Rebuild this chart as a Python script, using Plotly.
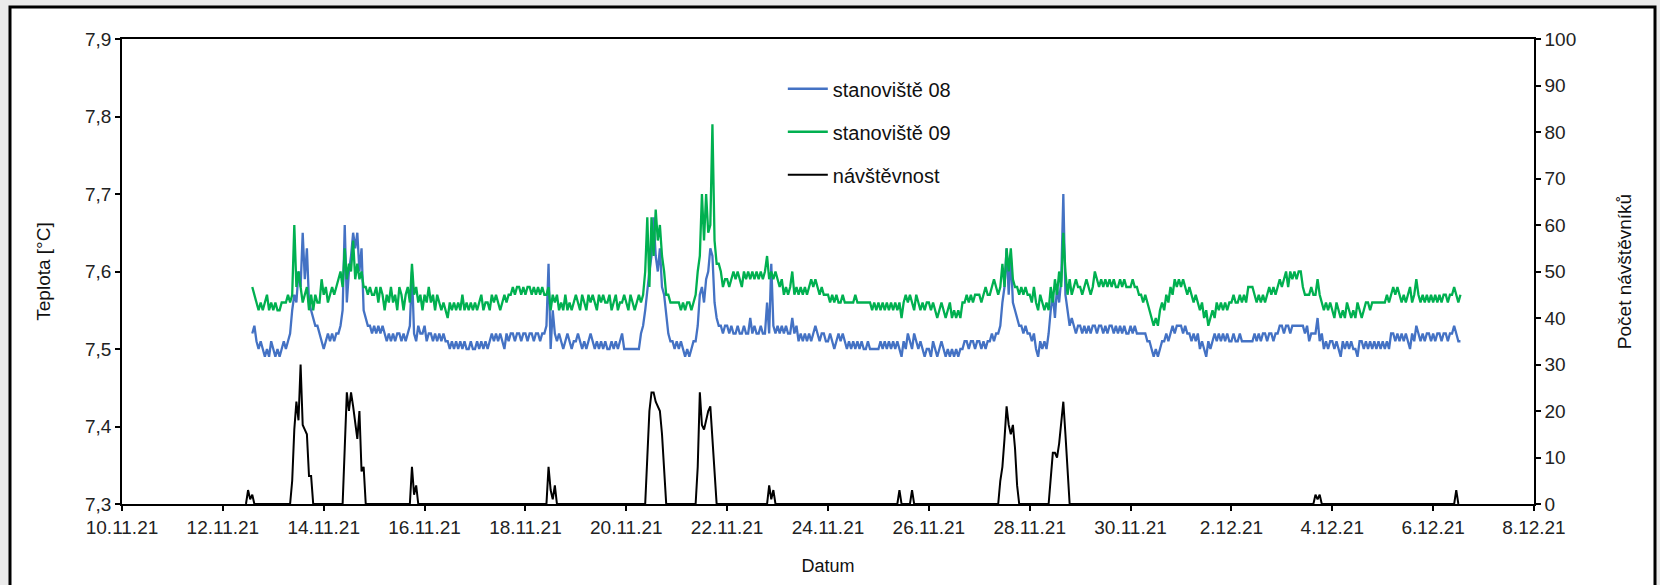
import pandas as pd
import plotly.graph_objects as go

# ---- stanoviště 08 (hourly, from 12.11.2021 14:00) ----
st08 = [
    7.52, 7.53, 7.51, 7.50, 7.51, 7.50, 7.49, 7.50, 7.49, 7.51,  # 12.11 (14-23 h)
    7.50, 7.49, 7.50, 7.49, 7.50, 7.51, 7.50, 7.51, 7.52, 7.55, 7.57, 7.56, 7.60, 7.58, 7.65, 7.59, 7.63, 7.56, 7.55, 7.54, 7.53, 7.53, 7.52, 7.51,  # 13.11
    7.50, 7.51, 7.52, 7.51, 7.52, 7.51, 7.52, 7.52, 7.53, 7.55, 7.66, 7.56, 7.60, 7.62, 7.65, 7.63, 7.65, 7.60, 7.63, 7.55, 7.54, 7.53, 7.53, 7.52,  # 14.11
    7.53, 7.52, 7.53, 7.52, 7.53, 7.52, 7.51, 7.52, 7.51, 7.52, 7.51, 7.52, 7.52, 7.51, 7.52, 7.51, 7.52, 7.53, 7.60, 7.52, 7.51, 7.53, 7.52, 7.52,  # 15.11
    7.53, 7.51, 7.52, 7.52, 7.51, 7.52, 7.51, 7.52, 7.51, 7.52, 7.51, 7.51, 7.50, 7.51, 7.50, 7.51, 7.50, 7.51, 7.50, 7.51, 7.50, 7.50, 7.51, 7.50,  # 16.11
    7.50, 7.51, 7.50, 7.51, 7.50, 7.51, 7.50, 7.51, 7.52, 7.51, 7.52, 7.51, 7.52, 7.51, 7.50, 7.52, 7.51, 7.52, 7.52, 7.51, 7.52, 7.52, 7.51, 7.52,  # 17.11
    7.52, 7.51, 7.52, 7.52, 7.51, 7.52, 7.52, 7.51, 7.52, 7.52, 7.53, 7.61, 7.50, 7.55, 7.52, 7.51, 7.52, 7.51, 7.50, 7.51, 7.52, 7.51, 7.50, 7.51,  # 18.11
    7.51, 7.52, 7.51, 7.50, 7.51, 7.50, 7.51, 7.52, 7.51, 7.50, 7.51, 7.50, 7.51, 7.50, 7.51, 7.50, 7.50, 7.51, 7.50, 7.51, 7.50, 7.51, 7.52, 7.50,  # 19.11
    7.50, 7.50, 7.50, 7.50, 7.50, 7.50, 7.50, 7.52, 7.53, 7.55, 7.58, 7.60, 7.62, 7.67, 7.62, 7.60, 7.63, 7.58, 7.57, 7.54, 7.52, 7.51, 7.51, 7.50,  # 20.11
    7.51, 7.50, 7.51, 7.50, 7.49, 7.50, 7.49, 7.50, 7.51, 7.51, 7.53, 7.57, 7.58, 7.56, 7.59, 7.60, 7.63, 7.62, 7.56, 7.54, 7.53, 7.53, 7.52, 7.53,  # 21.11
    7.53, 7.52, 7.53, 7.52, 7.52, 7.53, 7.52, 7.52, 7.53, 7.52, 7.52, 7.54, 7.52, 7.53, 7.52, 7.52, 7.53, 7.52, 7.52, 7.56, 7.52, 7.61, 7.53, 7.52,  # 22.11
    7.53, 7.52, 7.53, 7.52, 7.53, 7.52, 7.52, 7.54, 7.52, 7.53, 7.51, 7.52, 7.51, 7.52, 7.51, 7.52, 7.51, 7.52, 7.53, 7.52, 7.51, 7.52, 7.52, 7.51,  # 23.11
    7.51, 7.52, 7.51, 7.50, 7.51, 7.52, 7.51, 7.52, 7.51, 7.50, 7.51, 7.50, 7.51, 7.50, 7.51, 7.50, 7.51, 7.50, 7.50, 7.51, 7.50, 7.50, 7.50, 7.50,  # 24.11
    7.50, 7.51, 7.50, 7.51, 7.50, 7.51, 7.50, 7.51, 7.50, 7.51, 7.50, 7.49, 7.51, 7.50, 7.52, 7.51, 7.50, 7.52, 7.51, 7.50, 7.51, 7.50, 7.49, 7.50,  # 25.11
    7.50, 7.49, 7.51, 7.50, 7.49, 7.50, 7.51, 7.50, 7.49, 7.50, 7.49, 7.50, 7.49, 7.50, 7.49, 7.50, 7.50, 7.51, 7.51, 7.50, 7.51, 7.51, 7.50, 7.51,  # 26.11
    7.51, 7.50, 7.51, 7.50, 7.51, 7.51, 7.52, 7.51, 7.52, 7.52, 7.53, 7.56, 7.58, 7.63, 7.57, 7.62, 7.56, 7.55, 7.54, 7.53, 7.53, 7.52, 7.53, 7.52,  # 27.11
    7.52, 7.51, 7.52, 7.50, 7.49, 7.51, 7.50, 7.51, 7.50, 7.52, 7.55, 7.57, 7.54, 7.58, 7.56, 7.59, 7.70, 7.57, 7.55, 7.53, 7.54, 7.53, 7.52, 7.53,  # 28.11
    7.53, 7.52, 7.53, 7.52, 7.53, 7.52, 7.53, 7.53, 7.52, 7.53, 7.53, 7.52, 7.53, 7.52, 7.53, 7.53, 7.52, 7.53, 7.52, 7.53, 7.52, 7.53, 7.52, 7.52,  # 29.11
    7.53, 7.52, 7.53, 7.52, 7.52, 7.52, 7.52, 7.52, 7.51, 7.51, 7.50, 7.49, 7.50, 7.49, 7.50, 7.51, 7.51, 7.52, 7.51, 7.52, 7.53, 7.52, 7.53, 7.53,  # 30.11
    7.53, 7.52, 7.53, 7.52, 7.52, 7.51, 7.52, 7.51, 7.52, 7.50, 7.51, 7.50, 7.49, 7.51, 7.50, 7.51, 7.52, 7.51, 7.52, 7.51, 7.52, 7.51, 7.52, 7.51,  # 1.12
    7.51, 7.52, 7.51, 7.51, 7.52, 7.51, 7.51, 7.51, 7.51, 7.51, 7.51, 7.52, 7.51, 7.52, 7.51, 7.52, 7.52, 7.51, 7.52, 7.52, 7.51, 7.52, 7.52, 7.53,  # 2.12
    7.53, 7.52, 7.53, 7.53, 7.52, 7.53, 7.53, 7.53, 7.53, 7.53, 7.53, 7.52, 7.53, 7.51, 7.52, 7.52, 7.52, 7.54, 7.51, 7.52, 7.50, 7.51, 7.50, 7.51,  # 3.12
    7.51, 7.50, 7.51, 7.50, 7.49, 7.51, 7.50, 7.51, 7.50, 7.51, 7.50, 7.50, 7.49, 7.51, 7.51, 7.50, 7.51, 7.50, 7.51, 7.50, 7.51, 7.50, 7.51, 7.50,  # 4.12
    7.51, 7.50, 7.51, 7.50, 7.52, 7.52, 7.51, 7.52, 7.51, 7.52, 7.51, 7.52, 7.51, 7.50, 7.52, 7.51, 7.53, 7.52, 7.51, 7.52, 7.51, 7.52, 7.52, 7.51,  # 5.12
    7.52, 7.51, 7.52, 7.52, 7.51, 7.52, 7.52, 7.51, 7.52, 7.52, 7.53, 7.52, 7.51, 7.51,  # 6.12 (0-13 h)
]

# ---- stanoviště 09 (hourly, from 12.11.2021 14:00) ----
st09 = [
    7.58, 7.57, 7.56, 7.55, 7.56, 7.55, 7.56, 7.57, 7.55, 7.56,  # 12.11
    7.55, 7.56, 7.55, 7.55, 7.56, 7.56, 7.56, 7.57, 7.56, 7.57, 7.66, 7.58, 7.60, 7.58, 7.56, 7.57, 7.58, 7.55, 7.57, 7.55, 7.57, 7.56, 7.56, 7.59,  # 13.11
    7.57, 7.58, 7.56, 7.57, 7.58, 7.57, 7.58, 7.59, 7.60, 7.58, 7.63, 7.59, 7.61, 7.60, 7.64, 7.59, 7.61, 7.59, 7.60, 7.58, 7.58, 7.57, 7.58, 7.57,  # 14.11
    7.57, 7.58, 7.56, 7.58, 7.57, 7.55, 7.57, 7.56, 7.58, 7.56, 7.57, 7.55, 7.58, 7.57, 7.55, 7.57, 7.58, 7.56, 7.61, 7.57, 7.58, 7.56, 7.57, 7.55,  # 15.11
    7.57, 7.56, 7.58, 7.56, 7.57, 7.55, 7.57, 7.56, 7.55, 7.56, 7.55, 7.54, 7.56, 7.55, 7.56, 7.55, 7.56, 7.55, 7.57, 7.55, 7.56, 7.55, 7.56, 7.55,  # 16.11
    7.56, 7.55, 7.56, 7.57, 7.55, 7.56, 7.56, 7.55, 7.57, 7.56, 7.57, 7.56, 7.55, 7.56, 7.57, 7.56, 7.57, 7.57, 7.58, 7.57, 7.58, 7.58, 7.57, 7.58,  # 17.11
    7.57, 7.58, 7.58, 7.57, 7.58, 7.57, 7.58, 7.57, 7.58, 7.57, 7.57, 7.58, 7.55, 7.57, 7.56, 7.57, 7.55, 7.56, 7.55, 7.57, 7.55, 7.56, 7.55, 7.56,  # 18.11
    7.57, 7.56, 7.55, 7.57, 7.56, 7.55, 7.57, 7.56, 7.57, 7.56, 7.55, 7.57, 7.56, 7.57, 7.56, 7.56, 7.57, 7.55, 7.56, 7.57, 7.55, 7.56, 7.56, 7.57,  # 19.11
    7.56, 7.55, 7.57, 7.56, 7.55, 7.56, 7.57, 7.56, 7.57, 7.60, 7.67, 7.58, 7.67, 7.62, 7.68, 7.64, 7.66, 7.62, 7.60, 7.57, 7.57, 7.56, 7.56, 7.56,  # 20.11
    7.56, 7.56, 7.55, 7.56, 7.55, 7.56, 7.56, 7.55, 7.56, 7.57, 7.60, 7.62, 7.70, 7.64, 7.70, 7.65, 7.66, 7.79, 7.64, 7.61, 7.61, 7.60, 7.58, 7.59,  # 21.11
    7.59, 7.58, 7.59, 7.60, 7.59, 7.60, 7.59, 7.58, 7.60, 7.59, 7.60, 7.59, 7.60, 7.59, 7.60, 7.59, 7.60, 7.59, 7.60, 7.62, 7.59, 7.60, 7.59, 7.60,  # 22.11
    7.59, 7.58, 7.59, 7.57, 7.58, 7.57, 7.58, 7.60, 7.57, 7.58, 7.57, 7.58, 7.57, 7.58, 7.57, 7.58, 7.59, 7.58, 7.59, 7.58, 7.57, 7.58, 7.57, 7.57,  # 23.11
    7.57, 7.56, 7.57, 7.56, 7.57, 7.56, 7.56, 7.57, 7.56, 7.56, 7.56, 7.56, 7.56, 7.57, 7.56, 7.56, 7.56, 7.56, 7.56, 7.56, 7.56, 7.55, 7.56, 7.55,  # 24.11
    7.56, 7.55, 7.56, 7.55, 7.56, 7.55, 7.56, 7.55, 7.56, 7.55, 7.56, 7.54, 7.56, 7.57, 7.56, 7.57, 7.56, 7.55, 7.57, 7.56, 7.55, 7.56, 7.55, 7.56,  # 25.11
    7.56, 7.55, 7.56, 7.55, 7.54, 7.55, 7.56, 7.55, 7.54, 7.55, 7.56, 7.54, 7.55, 7.54, 7.55, 7.54, 7.56, 7.56, 7.57, 7.56, 7.57, 7.56, 7.57, 7.57,  # 26.11
    7.57, 7.56, 7.57, 7.58, 7.57, 7.57, 7.58, 7.59, 7.58, 7.57, 7.58, 7.61, 7.58, 7.63, 7.60, 7.63, 7.59, 7.58, 7.58, 7.57, 7.58, 7.57, 7.58, 7.57,  # 27.11
    7.57, 7.56, 7.58, 7.56, 7.55, 7.57, 7.56, 7.55, 7.56, 7.55, 7.58, 7.56, 7.59, 7.57, 7.60, 7.58, 7.65, 7.60, 7.57, 7.59, 7.57, 7.58, 7.59, 7.58,  # 28.11
    7.58, 7.57, 7.58, 7.59, 7.58, 7.57, 7.58, 7.60, 7.59, 7.58, 7.59, 7.58, 7.59, 7.58, 7.59, 7.58, 7.59, 7.58, 7.58, 7.59, 7.58, 7.59, 7.58, 7.58,  # 29.11
    7.58, 7.59, 7.58, 7.58, 7.57, 7.57, 7.56, 7.57, 7.56, 7.55, 7.54, 7.53, 7.54, 7.53, 7.55, 7.56, 7.55, 7.57, 7.56, 7.58, 7.57, 7.59, 7.58, 7.59,  # 30.11
    7.58, 7.59, 7.58, 7.57, 7.58, 7.57, 7.56, 7.57, 7.56, 7.55, 7.56, 7.54, 7.55, 7.53, 7.54, 7.55, 7.54, 7.56, 7.55, 7.56, 7.55, 7.56, 7.55, 7.56,  # 1.12
    7.56, 7.57, 7.56, 7.56, 7.57, 7.56, 7.57, 7.56, 7.58, 7.58, 7.58, 7.57, 7.56, 7.57, 7.56, 7.57, 7.56, 7.57, 7.58, 7.57, 7.58, 7.57, 7.58, 7.59,  # 2.12
    7.58, 7.59, 7.60, 7.58, 7.60, 7.59, 7.60, 7.59, 7.60, 7.60, 7.58, 7.57, 7.57, 7.57, 7.58, 7.57, 7.57, 7.59, 7.57, 7.56, 7.55, 7.56, 7.55, 7.56,  # 3.12
    7.55, 7.54, 7.56, 7.55, 7.54, 7.55, 7.54, 7.56, 7.55, 7.54, 7.55, 7.54, 7.56, 7.55, 7.54, 7.55, 7.56, 7.56, 7.55, 7.56, 7.56, 7.56, 7.56, 7.56,  # 4.12
    7.56, 7.56, 7.57, 7.56, 7.57, 7.58, 7.57, 7.58, 7.57, 7.56, 7.57, 7.56, 7.57, 7.58, 7.56, 7.57, 7.59, 7.57, 7.56, 7.57, 7.56, 7.57, 7.56, 7.57,  # 5.12
    7.56, 7.57, 7.56, 7.57, 7.56, 7.57, 7.57, 7.56, 7.57, 7.57, 7.58, 7.57, 7.56, 7.57,  # 6.12
]

# ---- návštěvnost (visitor counts, hourly, zero between the listed hours) ----
visit_time = [
    "2021-11-12 11:00", "2021-11-12 12:00", "2021-11-12 13:00", "2021-11-12 14:00", "2021-11-12 15:00",
    "2021-11-13 08:00", "2021-11-13 09:00", "2021-11-13 10:00", "2021-11-13 11:00", "2021-11-13 12:00",
    "2021-11-13 13:00", "2021-11-13 14:00", "2021-11-13 15:00", "2021-11-13 16:00", "2021-11-13 17:00",
    "2021-11-13 18:00", "2021-11-13 19:00",
    "2021-11-14 09:00", "2021-11-14 10:00", "2021-11-14 11:00", "2021-11-14 12:00", "2021-11-14 13:00",
    "2021-11-14 14:00", "2021-11-14 15:00", "2021-11-14 16:00", "2021-11-14 17:00", "2021-11-14 18:00",
    "2021-11-14 19:00", "2021-11-14 20:00",
    "2021-11-15 17:00", "2021-11-15 18:00", "2021-11-15 19:00", "2021-11-15 20:00", "2021-11-15 21:00",
    "2021-11-18 10:00", "2021-11-18 11:00", "2021-11-18 12:00", "2021-11-18 13:00", "2021-11-18 14:00",
    "2021-11-18 15:00",
    "2021-11-20 09:00", "2021-11-20 10:00", "2021-11-20 11:00", "2021-11-20 12:00", "2021-11-20 13:00",
    "2021-11-20 14:00", "2021-11-20 15:00", "2021-11-20 16:00", "2021-11-20 17:00", "2021-11-20 18:00",
    "2021-11-20 19:00",
    "2021-11-21 09:00", "2021-11-21 10:00", "2021-11-21 11:00", "2021-11-21 12:00", "2021-11-21 13:00",
    "2021-11-21 14:00", "2021-11-21 15:00", "2021-11-21 16:00", "2021-11-21 17:00", "2021-11-21 18:00",
    "2021-11-21 19:00",
    "2021-11-22 19:00", "2021-11-22 20:00", "2021-11-22 21:00", "2021-11-22 22:00", "2021-11-22 23:00",
    "2021-11-25 09:00", "2021-11-25 10:00", "2021-11-25 11:00",
    "2021-11-25 15:00", "2021-11-25 16:00", "2021-11-25 17:00",
    "2021-11-27 09:00", "2021-11-27 10:00", "2021-11-27 11:00", "2021-11-27 12:00", "2021-11-27 13:00",
    "2021-11-27 14:00", "2021-11-27 15:00", "2021-11-27 16:00", "2021-11-27 17:00", "2021-11-27 18:00",
    "2021-11-27 19:00",
    "2021-11-28 09:00", "2021-11-28 10:00", "2021-11-28 11:00", "2021-11-28 12:00", "2021-11-28 13:00",
    "2021-11-28 14:00", "2021-11-28 15:00", "2021-11-28 16:00", "2021-11-28 17:00", "2021-11-28 18:00",
    "2021-11-28 19:00",
    "2021-12-03 15:00", "2021-12-03 16:00", "2021-12-03 17:00", "2021-12-03 18:00", "2021-12-03 19:00",
    "2021-12-06 10:00", "2021-12-06 11:00", "2021-12-06 12:00",
]
visit_count = [
    0, 3, 1, 2, 0,
    0, 5, 16, 22, 18, 30, 17, 16, 15, 6, 6, 0,
    0, 12, 24, 20, 24, 21, 17, 14, 20, 7, 8, 0,
    0, 8, 2, 4, 0,
    0, 8, 3, 1, 4, 0,
    0, 10, 20, 24, 24, 22, 21, 20, 15, 8, 0,
    0, 8, 24, 17, 16, 18, 20, 21, 14, 6, 0,
    0, 4, 1, 3, 0,
    0, 3, 0,
    0, 3, 0,
    0, 5, 8, 14, 21, 17, 15, 17, 12, 4, 0,
    0, 6, 11, 11, 10, 13, 17, 22, 15, 7, 0,
    0, 2, 1, 2, 0,
    0, 3, 0,
]

series_names = ["stanoviště 08", "stanoviště 09", "návštěvnost"]
series_colors = ["#4472C4", "#00B050", "#000000"]

t08 = pd.date_range("2021-11-12 14:00", periods=len(st08), freq="h")
t09 = pd.date_range("2021-11-12 14:00", periods=len(st09), freq="h")
tv = pd.to_datetime(visit_time)

FONT = "Liberation Sans, Arial, sans-serif"

fig = go.Figure()
fig.add_trace(go.Scatter(x=t08, y=st08, mode="lines", name=series_names[0],
                         legendgroup="a", line=dict(color=series_colors[0], width=2.3)))
fig.add_trace(go.Scatter(x=t09, y=st09, mode="lines", name=series_names[1],
                         legendgroup="b", line=dict(color=series_colors[1], width=2.3)))
fig.add_trace(go.Scatter(x=tv, y=visit_count, mode="lines", name=series_names[2],
                         legendgroup="c", yaxis="y2", line=dict(color=series_colors[2], width=2)))

axis_common = dict(showline=True, linecolor="black", linewidth=1.5, ticks="outside",
                   ticklen=5, tickwidth=1.5, tickcolor="black", showgrid=False, zeroline=False,
                   tickfont=dict(family=FONT, size=19, color="#222222"))

fig.update_layout(
    width=1660, height=585,
    margin=dict(l=122, r=126, t=39, b=81),
    paper_bgcolor="#ebebeb",
    plot_bgcolor="white",
    separators=", ",
    font=dict(family=FONT, color="#111111"),
    showlegend=True,
    legend=dict(x=0.468, y=0.935, xanchor="left", yanchor="top",
                bgcolor="rgba(0,0,0,0)", traceorder="grouped", tracegroupgap=14,
                font=dict(family=FONT, size=20, color="#111111"), itemwidth=40),
    xaxis=dict(axis_common, type="date", range=["2021-11-10", "2021-12-08"],
               tick0="2021-11-10", dtick=2 * 86400000, tickformat="%-d.%m.%y",
               mirror=True,
               title=dict(text="Datum", font=dict(family=FONT, size=18), standoff=23)),
    yaxis=dict(axis_common, range=[7.3, 7.9], dtick=0.1, tickformat=".1f",
               title=dict(text="Teplota [°C]", font=dict(family=FONT, size=19), standoff=29)),
    yaxis2=dict(axis_common, range=[0, 100], dtick=10, overlaying="y", side="right",
                title=dict(text="Počet návštěvníků", font=dict(family=FONT, size=19), standoff=42)),
    shapes=[dict(type="rect", xref="paper", yref="paper", layer="below",
                 x0=(10 - 122) / 1412, x1=(1655 - 122) / 1412,
                 y0=(504 - 600) / 465, y1=(504 - 7) / 465,
                 fillcolor="white", line=dict(color="black", width=3))],
)

fig.write_html("out.html", config={"displayModeBar": False})
